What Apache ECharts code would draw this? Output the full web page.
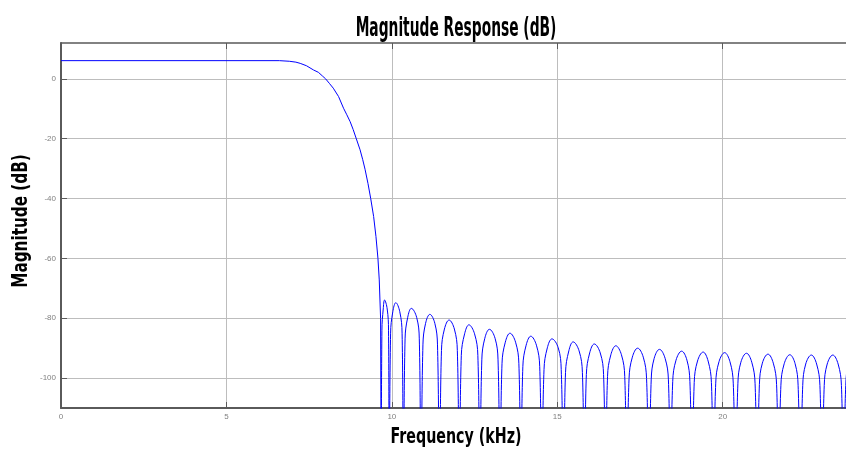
<!DOCTYPE html>
<html>
<head>
<meta charset="utf-8">
<script src="https://cdn.jsdelivr.net/npm/echarts@6/dist/echarts.min.js"></script>
<style>
  html, body { margin: 0; padding: 0; background: #fff; }
  #chart { width: 846px; height: 449px; }
</style>
</head>
<body>
<div id="chart"></div>
<script>
// tick positions
const xTicks = [0, 5, 10, 15, 20];
const yTicks = [0, -20, -40, -60, -80, -100];

// passband + transition band, [kHz, dB]
const rolloff = [
  [0, 6.1], [6.6, 6.1], [6.9, 5.9], [7.1, 5.6], [7.23, 5.2], [7.42, 4.4],
  [7.63, 3.0], [7.78, 2.2], [7.9, 1.0], [8.0, 0], [8.12, -1.6], [8.23, -3.1],
  [8.39, -5.9], [8.54, -9.8], [8.64, -12.0], [8.74, -14.3], [8.83, -16.9],
  [8.92, -19.8], [9.04, -23.7], [9.12, -27], [9.19, -30.2], [9.28, -35],
  [9.36, -39.9], [9.45, -46], [9.52, -52.7], [9.58, -60], [9.62, -67.2],
  [9.66, -80], [9.68, -140]
];

// stopband sidelobes (nulls drawn at -140, clipped by the axis)
const stopband = [
  [9.68, -140], [9.70, -84], [9.74, -76.9], [9.78, -73.9], [9.86, -76.9], [9.90, -84],
  [9.92, -140], [9.963, -85], [10.03, -77.8], [10.12, -74.8], [10.24, -77.8], [10.31, -85],
  [10.35, -140], [10.40, -86.9], [10.48, -79.7], [10.59, -76.7], [10.75, -79.7], [10.83, -86.9],
  [10.88, -140], [10.94, -88.9], [11.02, -81.7], [11.15, -78.7], [11.30, -81.7], [11.38, -88.9],
  [11.44, -140], [11.50, -90.8], [11.59, -83.6], [11.73, -80.6], [11.89, -83.6], [11.98, -90.8],
  [12.04, -140], [12.10, -92.4], [12.20, -85.2], [12.33, -82.2], [12.50, -85.2], [12.60, -92.4],
  [12.66, -140], [12.72, -93.9], [12.81, -86.7], [12.95, -83.7], [13.12, -86.7], [13.21, -93.9],
  [13.27, -140], [13.33, -95.2], [13.43, -88], [13.57, -85], [13.74, -88], [13.84, -95.2],
  [13.90, -140], [13.96, -96.2], [14.06, -89], [14.20, -86], [14.37, -89], [14.47, -96.2],
  [14.53, -140], [14.60, -97.1], [14.70, -89.9], [14.84, -86.9], [15.03, -89.9], [15.12, -97.1],
  [15.19, -140], [15.25, -98.1], [15.35, -90.9], [15.48, -87.9], [15.66, -90.9], [15.76, -98.1],
  [15.82, -140], [15.88, -98.8], [15.98, -91.6], [16.12, -88.6], [16.30, -91.6], [16.40, -98.8],
  [16.46, -140], [16.52, -99.4], [16.62, -92.2], [16.77, -89.2], [16.94, -92.2], [17.04, -99.4],
  [17.10, -140], [17.17, -100.2], [17.27, -93], [17.43, -90], [17.60, -93], [17.70, -100.2],
  [17.77, -140], [17.84, -100.6], [17.93, -93.4], [18.09, -90.4], [18.26, -93.4], [18.36, -100.6],
  [18.42, -140], [18.49, -101.2], [18.59, -94], [18.76, -91], [18.92, -94], [19.01, -101.2],
  [19.08, -140], [19.14, -101.5], [19.24, -94.3], [19.41, -91.3], [19.56, -94.3], [19.66, -101.5],
  [19.72, -140], [19.79, -101.7], [19.89, -94.5], [20.06, -91.5], [20.22, -94.5], [20.32, -101.7],
  [20.39, -140], [20.46, -101.9], [20.55, -94.7], [20.72, -91.7], [20.88, -94.7], [20.98, -101.9],
  [21.04, -140], [21.11, -102.2], [21.20, -95], [21.37, -92], [21.53, -95], [21.63, -102.2],
  [21.69, -140], [21.76, -102.4], [21.86, -95.2], [22.03, -92.2], [22.19, -95.2], [22.28, -102.4],
  [22.35, -140], [22.42, -102.5], [22.51, -95.3], [22.68, -92.3], [22.84, -95.3], [22.94, -102.5],
  [23.00, -140], [23.07, -102.5], [23.16, -95.3], [23.33, -92.3], [23.49, -95.3], [23.59, -102.5],
  [23.65, -140], [23.72, -102.5], [23.81, -95.3], [24.00, -92.4]
];

const titleFont = '"Liberation Sans Narrow", "DejaVu Sans Condensed", sans-serif';
const axisColor = '#5a5a5a';
const gridColor = '#bdbdbd';

let chart = echarts.init(document.getElementById('chart'));

chart.setOption({
  animation: false,
  grid: {
    left: 61, top: 43, width: 794, height: 365,
    outerBoundsMode: 'none'
  },
  xAxis: [{
    type: 'value', min: 0, max: 24,
    axisLine: { onZero: false, lineStyle: { color: axisColor, width: 2 } },
    axisTick: { inside: true, length: 6, customValues: xTicks, lineStyle: { color: axisColor } },
    axisLabel: { customValues: xTicks, color: '#808080', fontSize: 8, margin: 5, fontFamily: 'Liberation Sans' },
    splitLine: { show: true, lineStyle: { color: gridColor, width: 1 } }
  }, {
    type: 'value', min: 0, max: 24, position: 'top',
    axisLine: { onZero: false, lineStyle: { color: axisColor, width: 1.5 } },
    axisTick: { inside: true, length: 6, customValues: xTicks, lineStyle: { color: axisColor } },
    axisLabel: { show: false },
    splitLine: { show: false }
  }],
  yAxis: [{
    type: 'value', min: -110, max: 12,
    axisLine: { show: true, onZero: false, lineStyle: { color: axisColor, width: 2 } },
    axisTick: { show: true, inside: true, length: 6, customValues: yTicks, lineStyle: { color: axisColor } },
    axisLabel: { customValues: yTicks, color: '#808080', fontSize: 8, margin: 5, fontFamily: 'Liberation Sans' },
    splitLine: { show: true, lineStyle: { color: gridColor, width: 1 } }
  }],
  graphic: [{
    type: 'text', x: 456, y: 29, scaleX: 0.59,
    style: { text: 'Magnitude Response (dB)', font: 'bold 26px ' + titleFont, fill: '#000', textAlign: 'center', textVerticalAlign: 'middle' }
  }, {
    type: 'text', x: 456, y: 437, scaleX: 0.72,
    style: { text: 'Frequency (kHz)', font: 'bold 22px ' + titleFont, fill: '#000', textAlign: 'center', textVerticalAlign: 'middle' }
  }, {
    type: 'text', x: 21, y: 221, rotation: Math.PI / 2, scaleX: 0.77,
    style: { text: 'Magnitude (dB)', font: 'bold 22px ' + titleFont, fill: '#000', textAlign: 'center', textVerticalAlign: 'middle' }
  }],
  series: [{
    type: 'line', data: rolloff, showSymbol: false,
    lineStyle: { color: '#0000ff', width: 1 }
  }, {
    type: 'line', data: stopband, showSymbol: false, smooth: 0.4,
    lineStyle: { color: '#0000ff', width: 1 }
  }]
});

window.addEventListener('resize', () => chart.resize());
</script>
</body>
</html>
